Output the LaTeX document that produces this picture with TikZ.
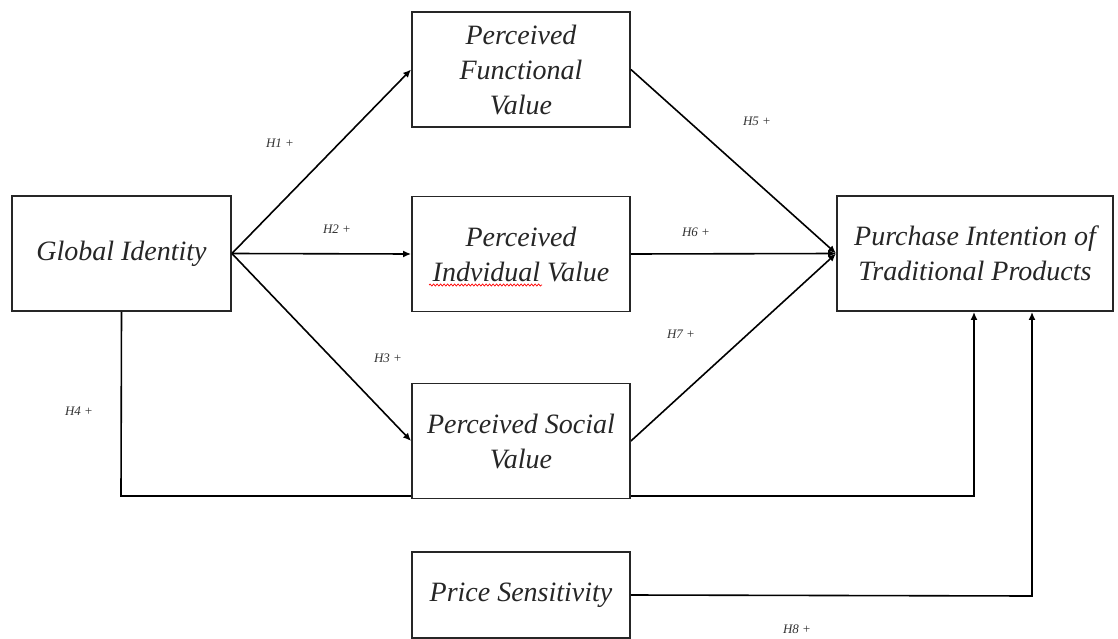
\documentclass[tikz,border=0pt]{standalone}
\usepackage{fontspec}
\setmainfont{Liberation Serif}
\usetikzlibrary{arrows.meta,decorations.pathmorphing}
\begin{document}
\begin{tikzpicture}[x=1pt,y=-1pt,
  box/.style={draw=black!85, fill=white, line width=1.8pt, align=center, inner sep=0pt,
    text=black!85, font=\fontsize{28}{35}\selectfont\itshape},
  conn/.style={line width=1.6pt, draw=black, -{Latex[length=8pt,width=7pt]}},
  hyp/.style={text=black!80, font=\fontsize{13}{15}\selectfont\itshape}]
\useasboundingbox (0,0) rectangle (1118,639);
\coordinate (gic) at (121.5,253.5);
\coordinate (fvc) at (521,69.5);
\coordinate (ivc) at (521,254);
\coordinate (svc) at (521,441);
\coordinate (pic) at (975,253.5);
\coordinate (psc) at (521,595);
\path (gic) node[box, minimum width=219pt, minimum height=115pt] (gi) {Global Identity};
\path (fvc) node[box, minimum width=218pt, minimum height=115pt] (fv) {Perceived\\Functional\\Value};
\path (ivc) node[box, minimum width=218pt, minimum height=115pt] (iv) {Perceived\\Indvidual Value};
\path (svc) node[box, minimum width=218pt, minimum height=115pt] (sv) {};
\path (pic) node[box, minimum width=276pt, minimum height=115pt] (pi) {Purchase Intention of\\Traditional Products};
\path (psc) node[box, minimum width=218pt, minimum height=86pt] (ps) {Price Sensitivity};
\coordinate (c4a) at (121,496);
\coordinate (c4b) at (974,496);
\coordinate (c8) at (1032,596);
\draw[conn] (gi.east) -- (fv.west);
\draw[conn] (gi.east) -- (iv.west);
\draw[conn] (gi.east) -- (sv.west);
\draw[conn] (fv.east) -- (pi.west);
\draw[conn] (iv.east) -- (pi.west);
\draw[conn] (sv.east) -- (pi.west);
\draw[conn] (gi.south) -- (c4a) -- (c4b) -- (c4b |- pi.south);
\draw[conn] (ps.east) -- (c8) -- (c8 |- pi.south);
% social box redrawn over the H4 line
\path (svc) node[box, minimum width=218pt, minimum height=115pt] (sv2) {Perceived Social\\Value};
\draw[red, line width=0.7pt, decorate, decoration={snake, amplitude=1pt, segment length=3.5pt}] (429,285) -- (542,285);
\node[hyp] (h1) at (280,143) {H1 +};
\node[hyp] (h2) at (337,229) {H2 +};
\node[hyp] (h3) at (388,358) {H3 +};
\node[hyp] (h4) at (79,411) {H4 +};
\node[hyp] (h5) at (757,121) {H5 +};
\node[hyp] (h6) at (696,232) {H6 +};
\node[hyp] (h7) at (681,334) {H7 +};
\node[hyp] (h8) at (797,629) {H8 +};
\end{tikzpicture}
\end{document}
